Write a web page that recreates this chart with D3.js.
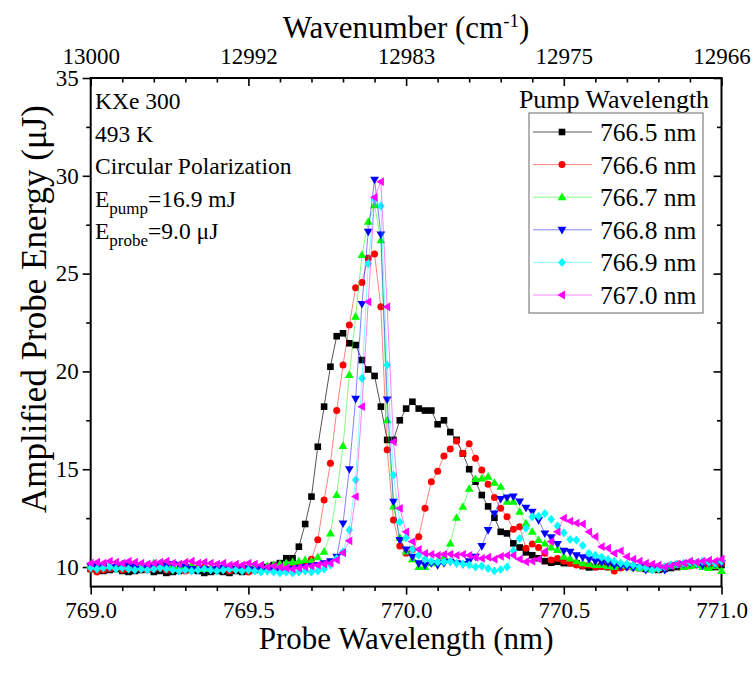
<!DOCTYPE html>
<html><head><meta charset="utf-8">
<script src="https://cdn.jsdelivr.net/npm/d3@7"></script>
<style>
html,body{margin:0;padding:0;background:#fff;}
svg, svg text{font-family:"Liberation Serif","Tinos","Times New Roman","DejaVu Serif","Noto Serif",serif;fill:#000;}
</style></head>
<body><svg id="chart" width="755" height="677" font-family="Liberation Serif, Tinos, Times New Roman, DejaVu Serif, serif"></svg>
<script>
const wavelengths = [
769.00,769.02,769.04,769.06,769.08,769.10,769.12,769.14,769.16,769.18,
769.20,769.22,769.24,769.26,769.28,769.30,769.32,769.34,769.36,769.38,
769.40,769.42,769.44,769.46,769.48,769.50,769.52,769.54,769.56,769.58,
769.60,769.62,769.64,769.66,769.68,769.70,769.72,769.74,769.76,769.78,
769.80,769.82,769.84,769.86,769.88,769.90,769.92,769.94,769.96,769.98,
770.00,770.02,770.04,770.06,770.08,770.10,770.12,770.14,770.16,770.18,
770.20,770.22,770.24,770.26,770.28,770.30,770.32,770.34,770.36,770.38,
770.40,770.42,770.44,770.46,770.48,770.50,770.52,770.54,770.56,770.58,
770.60,770.62,770.64,770.66,770.68,770.70,770.72,770.74,770.76,770.78,
770.80,770.82,770.84,770.86,770.88,770.90,770.92,770.94,770.96,770.98,
771.00];

const pump766_5 = [
9.90,9.85,9.80,9.85,9.90,9.80,9.75,9.80,9.85,9.90,
9.75,9.80,9.70,9.75,9.80,9.90,9.85,9.80,9.70,9.75,
9.80,9.75,9.70,9.80,9.75,9.80,9.85,9.90,10.00,10.10,
10.20,10.45,10.45,11.04,12.20,13.60,16.15,18.20,20.24,21.80,
21.95,21.44,21.35,20.58,20.10,19.77,18.20,16.50,16.50,17.50,
18.10,18.45,18.10,18.00,18.00,17.30,17.50,16.90,16.50,15.80,
15.00,14.36,13.68,13.10,12.52,11.80,11.72,11.21,11.00,10.75,
10.60,10.45,10.30,10.22,10.27,10.20,10.20,10.19,10.05,9.98,
10.00,10.05,10.00,9.98,10.00,10.05,10.00,9.95,9.90,9.90,
9.85,9.90,9.95,10.00,10.10,10.10,10.15,10.10,10.05,10.00,
10.10];
const pump766_6 = [
9.90,9.75,9.85,9.90,9.95,9.85,9.90,9.95,9.90,9.85,
9.90,9.95,9.85,9.90,9.85,9.80,9.90,9.95,10.00,9.90,
9.85,9.90,9.80,9.90,9.85,9.75,9.85,9.90,9.95,10.00,
10.00,10.05,10.10,10.05,10.10,10.40,11.40,13.43,15.30,18.00,
20.33,22.37,24.28,24.55,25.80,26.00,23.30,16.00,12.40,11.07,
10.70,10.90,11.55,13.00,14.36,14.90,15.67,16.03,16.44,15.80,
16.30,15.56,14.96,14.23,13.56,13.00,12.57,11.93,12.06,10.96,
11.18,11.00,10.70,10.36,10.44,10.30,10.20,10.10,10.07,10.10,
10.00,10.02,10.00,9.80,9.95,10.00,10.05,10.00,10.05,9.95,
9.90,10.00,10.10,10.15,10.10,10.05,10.10,10.20,10.10,10.05,
10.20];
const pump766_7 = [
10.10,10.15,10.10,10.05,10.10,10.15,10.20,10.10,10.05,10.10,
10.20,10.15,10.10,10.05,10.00,10.05,10.10,9.95,9.90,9.95,
10.00,10.05,10.00,9.95,10.00,10.05,10.10,10.00,10.05,10.10,
10.15,10.20,10.25,10.30,10.36,10.30,10.50,10.78,11.72,13.68,
16.19,19.82,22.80,25.95,27.65,28.50,26.70,17.50,13.10,11.50,
10.80,10.40,10.00,10.00,10.20,10.30,10.53,11.20,12.52,13.08,
14.00,14.50,14.53,14.62,14.31,14.10,13.34,13.34,12.83,12.23,
11.80,11.38,11.20,11.00,10.87,10.53,10.44,10.30,10.20,10.15,
10.10,10.10,10.05,10.00,10.10,10.05,10.00,9.95,10.00,9.90,
9.95,10.00,10.05,10.10,10.00,10.05,10.10,10.00,9.95,10.05,
9.80];
const pump766_8 = [
10.05,10.00,10.05,9.95,10.00,10.10,10.05,10.00,9.90,9.95,
10.00,10.10,10.05,10.15,10.10,10.00,9.90,9.85,9.90,9.85,
9.90,9.95,10.00,9.90,9.95,9.90,9.85,9.90,9.80,9.85,
9.80,9.85,9.90,9.95,10.00,10.05,10.10,10.20,10.30,10.53,
12.23,15.00,18.60,23.45,27.14,29.80,27.00,18.57,13.34,11.38,
10.90,10.53,10.19,10.10,10.20,10.10,10.20,10.27,10.20,10.15,
10.30,10.53,11.07,11.89,12.74,13.48,13.56,13.60,13.35,13.03,
12.83,12.40,11.72,11.52,11.18,10.83,10.78,10.60,10.50,10.40,
10.30,10.25,10.20,10.10,10.05,10.00,9.95,10.00,9.85,9.90,
9.95,9.85,10.05,10.10,10.15,10.20,10.15,10.10,10.20,10.15,
10.20];
const pump766_9 = [
9.95,9.90,9.95,10.00,9.90,9.95,9.90,9.85,9.90,9.85,
9.90,9.95,9.90,9.85,9.80,9.85,9.80,9.85,9.90,9.85,
9.80,9.85,9.90,9.85,9.80,9.85,9.80,9.75,9.80,9.75,
9.70,9.75,9.70,9.75,9.80,9.75,9.80,9.90,10.10,10.44,
10.78,11.89,14.45,19.65,25.50,28.80,28.46,20.33,14.70,12.30,
11.50,10.90,10.60,10.40,10.30,10.25,10.27,10.30,10.20,10.15,
10.10,10.00,10.05,9.93,9.80,9.88,10.00,10.83,11.46,11.98,
12.57,12.60,12.74,12.44,12.10,11.75,11.41,11.38,11.10,10.70,
10.60,10.50,10.40,10.30,10.20,10.15,10.10,10.00,9.95,9.85,
9.90,10.00,10.10,10.15,10.20,10.25,10.20,10.30,10.25,10.20,
10.30];
const pump767_0 = [
10.20,10.25,10.20,10.30,10.25,10.20,10.30,10.25,10.20,10.15,
10.20,10.25,10.30,10.20,10.15,10.25,10.30,10.20,10.25,10.20,
10.15,10.20,10.10,10.15,10.10,10.20,10.15,10.10,10.00,10.05,
10.00,9.95,9.90,9.95,10.00,10.05,10.10,10.15,10.20,10.36,
10.73,11.34,13.60,18.20,23.56,28.90,29.70,23.30,16.40,13.00,
11.80,11.30,10.90,10.70,10.65,10.60,10.65,10.66,10.60,10.65,
10.60,10.50,10.44,10.50,10.40,10.55,10.60,10.60,10.40,10.27,
10.30,10.40,10.80,11.30,11.80,12.50,12.35,12.25,12.20,11.80,
11.55,11.04,10.96,10.70,10.83,10.53,10.40,10.30,10.20,10.15,
10.10,10.00,10.05,10.15,10.20,10.30,10.25,10.30,10.35,10.30,
10.40];

const seriesNames = ["766.5 nm","766.6 nm","766.7 nm","766.8 nm","766.9 nm","767.0 nm"];
const seriesValues = [pump766_5, pump766_6, pump766_7, pump766_8, pump766_9, pump767_0];
const seriesColors = ["#000000","#ff0000","#00ff00","#0000ff","#00ffff","#ff00ff"];
const seriesMarkers = ["square","circle","triUp","triDown","diamond","triLeft"];

const xTickValues = [769.0, 769.5, 770.0, 770.5, 771.0];
const yTickValues = [10, 15, 20, 25, 30, 35];
const topTickValues = [13000, 12991.5, 12983, 12974.5, 12966];
const topTickLabels = ["13000","12992","12983","12975","12966"];

const annotations = ["KXe 300", "493 K", "Circular Polarization"];

const FONT = "Liberation Serif, Tinos, Times New Roman, DejaVu Serif, serif";
const svg = d3.select("#chart");
const L = 90.7, R = 721.5, T = 78, B = 586.6;
const x = d3.scaleLinear().domain([769, 771]).range([L, R]);
const y = d3.scaleLinear().domain([9, 35]).range([B, T]);
const xTop = d3.scaleLinear().domain([13000, 12966]).range([L, R]);

function markerPath(type){
  switch(type){
    case "square": return "M-3.3,-3.3H3.3V3.3H-3.3Z";
    case "circle": return "M3.5,0A3.5,3.5 0 1,1 -3.5,0A3.5,3.5 0 1,1 3.5,0Z";
    case "triUp": return "M0,-4.6L4.4,3L-4.4,3Z";
    case "triDown": return "M0,4.6L4.4,-3L-4.4,-3Z";
    case "triLeft": return "M-4.6,0L3,-4.4L3,4.4Z";
    case "diamond": return "M0,-4.5L3.8,0L0,4.5L-3.8,0Z";
  }
}

const tickFont = 23;
const gBottom = svg.append("g").attr("transform",`translate(0,${B})`)
  .call(d3.axisBottom(x).tickValues(xTickValues).tickFormat(d3.format(".1f")).tickSizeInner(8).tickSizeOuter(0).tickPadding(4));
svg.append("g").attr("transform",`translate(0,${B})`)
  .call(d3.axisBottom(x).tickValues(d3.range(769.1, 771, 0.1).filter(v=>Math.abs(v*2-Math.round(v*2))>0.01)).tickFormat("").tickSizeInner(4.5).tickSizeOuter(0));
const gLeft = svg.append("g").attr("transform",`translate(${L},0)`)
  .call(d3.axisLeft(y).tickValues(yTickValues).tickSizeInner(8).tickSizeOuter(0).tickPadding(4));
svg.append("g").attr("transform",`translate(${L},0)`)
  .call(d3.axisLeft(y).tickValues([12.5,17.5,22.5,27.5,32.5]).tickFormat("").tickSizeInner(4.5).tickSizeOuter(0));
const gTop = svg.append("g").attr("transform",`translate(0,${T})`)
  .call(d3.axisTop(xTop).tickValues(topTickValues).tickFormat((d,i)=>topTickLabels[i]).tickSizeInner(-8).tickSizeOuter(0).tickPadding(14));
const topMinor = [];
for(let k=0;k<4;k++){ for(let j=1;j<5;j++){ topMinor.push(topTickValues[k] + (topTickValues[k+1]-topTickValues[k])*j/5); } }
svg.append("g").attr("transform",`translate(0,${T})`)
  .call(d3.axisTop(xTop).tickValues(topMinor).tickFormat("").tickSizeInner(-4.5).tickSizeOuter(0));
svg.append("g").attr("transform",`translate(${R},0)`)
  .call(d3.axisRight(y).tickValues(yTickValues).tickFormat("").tickSizeInner(-8).tickSizeOuter(0));
svg.append("g").attr("transform",`translate(${R},0)`)
  .call(d3.axisRight(y).tickValues([12.5,17.5,22.5,27.5,32.5]).tickFormat("").tickSizeInner(-4.5).tickSizeOuter(0));

svg.selectAll(".domain").remove();
svg.selectAll("g").attr("font-family", FONT);
svg.selectAll(".tick line").attr("stroke","#000").attr("stroke-width",1.6);
svg.selectAll(".tick text").attr("font-size",tickFont).attr("font-family",FONT).attr("fill","#000");
gBottom.selectAll(".tick text").attr("dy","0.86em");

svg.append("rect").attr("x",L).attr("y",T).attr("width",R-L).attr("height",B-T)
  .attr("fill","none").attr("stroke","#000").attr("stroke-width",2);

const line = d3.line().x(d=>x(d[0])).y(d=>y(d[1]));
seriesValues.forEach((vals,si)=>{
  const pts = wavelengths.map((w,i)=>[w, vals[i]]);
  const g = svg.append("g");
  g.append("path").attr("d", line(pts)).attr("fill","none")
    .attr("stroke", seriesColors[si]).attr("stroke-width",0.9).attr("stroke-opacity", si===0?0.75:0.55);
  g.selectAll("path.m").data(pts).enter().append("path").attr("class","m")
    .attr("transform", d=>`translate(${x(d[0])},${y(d[1])})`)
    .attr("d", markerPath(seriesMarkers[si])).attr("fill", seriesColors[si]);
});

function txt(){ return svg.append("text").attr("font-family",FONT).attr("fill","#000"); }

txt().attr("x",(L+R)/2).attr("y",649).attr("text-anchor","middle").attr("font-size",31)
  .text("Probe Wavelength (nm)");
const tt = txt().attr("x",(L+R)/2).attr("y",38).attr("text-anchor","middle").attr("font-size",31);
tt.append("tspan").text("Wavenumber (cm");
tt.append("tspan").attr("font-size",19).attr("dy",-11).text("-1");
tt.append("tspan").attr("dy",11).text(")");
txt().attr("transform",`translate(46,309) rotate(-90)`).attr("text-anchor","middle").attr("font-size",35)
  .text("Amplified Probe Energy (\u03bcJ)");

const annY = [109, 142, 174];
annotations.forEach((t,i)=>txt().attr("x",95).attr("y",annY[i]).attr("font-size",23.5).text(t));
const e1 = txt().attr("x",95).attr("y",207).attr("font-size",23.5);
e1.append("tspan").text("E");
e1.append("tspan").attr("font-size",17).attr("dy",7).text("pump");
e1.append("tspan").attr("dy",-7).text("=16.9 mJ");
const e2 = txt().attr("x",95).attr("y",239).attr("font-size",23.5);
e2.append("tspan").text("E");
e2.append("tspan").attr("font-size",17).attr("dy",7).text("probe");
e2.append("tspan").attr("dy",-7).text("=9.0 \u03bcJ");

txt().attr("x",614).attr("y",108).attr("text-anchor","middle").attr("font-size",26).text("Pump Wavelength");
svg.append("rect").attr("x",529).attr("y",113).attr("width",174).attr("height",200)
  .attr("fill","#fff").attr("stroke","#808080").attr("stroke-width",1.2);
seriesNames.forEach((n,si)=>{
  const cy = 132 + si*32.6;
  svg.append("line").attr("x1",533).attr("x2",592).attr("y1",cy).attr("y2",cy)
    .attr("stroke",seriesColors[si]).attr("stroke-width",0.9).attr("stroke-opacity", si===0?0.75:0.55);
  svg.append("path").attr("transform",`translate(562,${cy})`).attr("d",markerPath(seriesMarkers[si])).attr("fill",seriesColors[si]);
  txt().attr("x",600).attr("y",cy+9).attr("font-size",25.5).text(n);
});
</script></body></html>
